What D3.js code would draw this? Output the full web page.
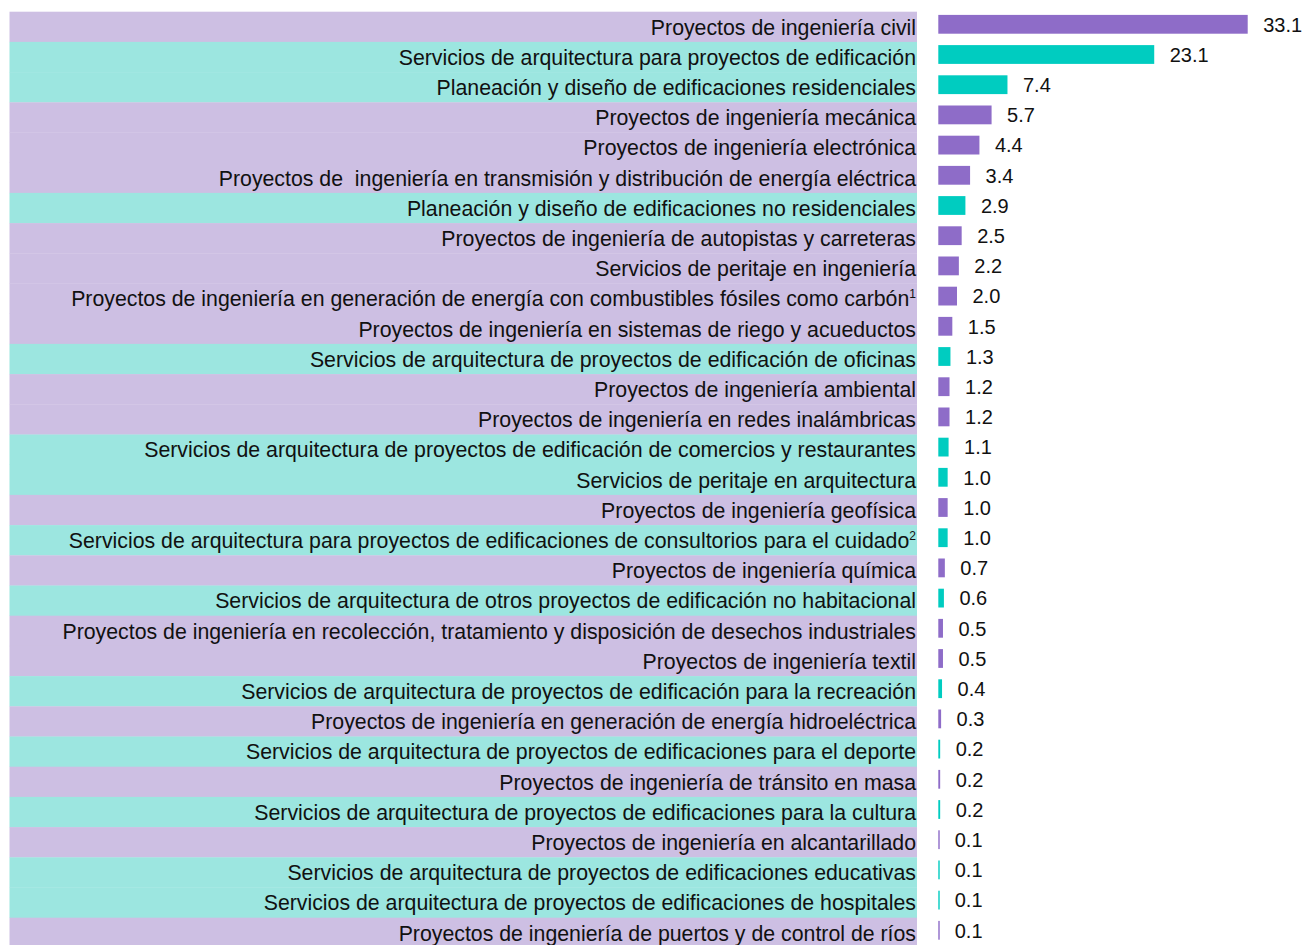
<!DOCTYPE html>
<html>
<head>
<meta charset="utf-8">
<script src="https://cdn.jsdelivr.net/npm/d3@7/dist/d3.min.js"></script>
<style>
  html, body { margin: 0; padding: 0; background: #fff; }
  svg { display: block; }
  text { font-family: "Liberation Sans", Arial, sans-serif; }
</style>
</head>
<body>
<svg id="chart" width="1302" height="945"></svg>
<script>
// Categories, top to bottom
const categories = [
  "Proyectos de ingeniería civil",
  "Servicios de arquitectura para proyectos de edificación",
  "Planeación y diseño de edificaciones residenciales",
  "Proyectos de ingeniería mecánica",
  "Proyectos de ingeniería electrónica",
  "Proyectos de  ingeniería en transmisión y distribución de energía eléctrica",
  "Planeación y diseño de edificaciones no residenciales",
  "Proyectos de ingeniería de autopistas y carreteras",
  "Servicios de peritaje en ingeniería",
  "Proyectos de ingeniería en generación de energía con combustibles fósiles como carbón",
  "Proyectos de ingeniería en sistemas de riego y acueductos",
  "Servicios de arquitectura de proyectos de edificación de oficinas",
  "Proyectos de ingeniería ambiental",
  "Proyectos de ingeniería en redes inalámbricas",
  "Servicios de arquitectura de proyectos de edificación de comercios y restaurantes",
  "Servicios de peritaje en arquitectura",
  "Proyectos de ingeniería geofísica",
  "Servicios de arquitectura para proyectos de edificaciones de consultorios para el cuidado",
  "Proyectos de ingeniería química",
  "Servicios de arquitectura de otros proyectos de edificación no habitacional",
  "Proyectos de ingeniería en recolección, tratamiento y disposición de desechos industriales",
  "Proyectos de ingeniería textil",
  "Servicios de arquitectura de proyectos de edificación para la recreación",
  "Proyectos de ingeniería en generación de energía hidroeléctrica",
  "Servicios de arquitectura de proyectos de edificaciones para el deporte",
  "Proyectos de ingeniería de tránsito en masa",
  "Servicios de arquitectura de proyectos de edificaciones para la cultura",
  "Proyectos de ingeniería en alcantarillado",
  "Servicios de arquitectura de proyectos de edificaciones educativas",
  "Servicios de arquitectura de proyectos de edificaciones de hospitales",
  "Proyectos de ingeniería de puertos y de control de ríos"
];

// Share (%) per category
const values = [
  33.1, 23.1, 7.4, 5.7, 4.4, 3.4, 2.9, 2.5, 2.2, 2.0,
  1.5, 1.3, 1.2, 1.2, 1.1, 1.0, 1.0, 1.0, 0.7, 0.6,
  0.5, 0.5, 0.4, 0.3, 0.2, 0.2, 0.2, 0.1, 0.1, 0.1, 0.1
];

// Activity group: "ing" = ingeniería, "arq" = arquitectura
const groups = [
  "ing", "arq", "arq", "ing", "ing", "ing", "arq", "ing", "ing", "ing",
  "ing", "arq", "ing", "ing", "arq", "arq", "ing", "arq", "ing", "arq",
  "ing", "ing", "arq", "ing", "arq", "ing", "arq", "ing", "arq", "arq", "ing"
];

// Footnote markers attached to some labels
const footnotes = ["", "", "", "", "", "", "", "", "", "1",
  "", "", "", "", "", "", "", "2", "", "",
  "", "", "", "", "", "", "", "", "", "", ""];

const rows = categories.map((c, i) => ({
  name: c, value: values[i], group: groups[i], note: footnotes[i], i
}));

const bandColor = { ing: "#cdbfe3", arq: "#9ce6e0" };
const barColor  = { ing: "#8e6cc8", arq: "#00ccc0" };

const svg = d3.select("#chart");

const rowH = 30.2;
const rowsTop = 11.7;
const y = d3.scaleBand()
  .domain(rows.map(d => d.i))
  .range([rowsTop, rowsTop + rowH * rows.length])
  .padding(0);

const x0 = 938.3;
const x = d3.scaleLinear().domain([0, 33.1]).range([x0, 1247.7]);

// Background bands behind the labels
svg.append("g")
  .selectAll("rect")
  .data(rows)
  .join("rect")
  .attr("x", 9.5)
  .attr("width", 917 - 9.5)
  .attr("y", d => y(d.i))
  .attr("height", y.bandwidth() + 0.3)
  .attr("fill", d => bandColor[d.group]);

// Category labels, right aligned
const labels = svg.append("g")
  .selectAll("text")
  .data(rows)
  .join("text")
  .attr("x", 916)
  .attr("y", d => y(d.i) + y.bandwidth() / 2 + 7.8)
  .attr("text-anchor", "end")
  .attr("font-size", 21.3)
  .attr("fill", "#111")
  .style("white-space", "pre");

labels.append("tspan").text(d => d.name);
labels.filter(d => d.note)
  .append("tspan")
  .attr("font-size", 12)
  .attr("dy", -8)
  .text(d => d.note);

// Bars (at least one pixel wide so the smallest shares stay visible)
const barOff = 3.2, barH = 18.8;
svg.append("g")
  .selectAll("rect")
  .data(rows)
  .join("rect")
  .attr("x", x(0))
  .attr("y", d => y(d.i) + barOff)
  .attr("width", d => Math.max(1.4, x(d.value) - x(0)))
  .attr("height", barH)
  .attr("fill", d => barColor[d.group]);

// Value labels
svg.append("g")
  .selectAll("text")
  .data(rows)
  .join("text")
  .attr("x", d => x(d.value) + 15.5)
  .attr("y", d => y(d.i) + barOff + barH / 2 + 7.3)
  .attr("font-size", 20)
  .attr("fill", "#111")
  .text(d => d.value.toFixed(1));
</script>
</body>
</html>
